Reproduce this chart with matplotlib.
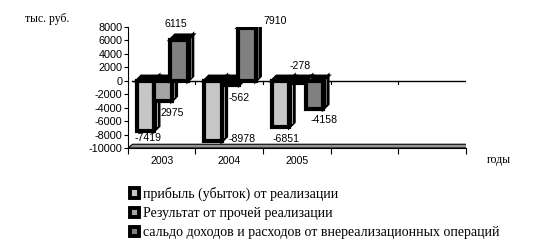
import matplotlib.pyplot as plt
from matplotlib.patches import Polygon, Rectangle, Patch
import numpy as np

years = ['2003', '2004', '2005', '', '']
series_names = ['прибыль (убыток) от реализации',
                'Результат от прочей реализации',
                'сальдо доходов и расходов от внереализационных операций']
profit = [-7419, -8978, -6851]
other = [-2975, -562, -278]
nonop = [6115, 7910, -4158]
label_text = [['-7419', '-8978', '-6851'],
              ['2975', '-562', '-278'],
              ['6115', '7910', '-4158']]
colors = ['#c6c6c6', '#a4a4a4', '#808080']

# bar geometry
offsets = [-0.24, 0.02, 0.26]
width = 0.26
dx, dy = 0.07, 700

def bar3d(ax, x, v, color):
    x0, x1 = x - width / 2, x + width / 2
    lo, hi = min(0, v), max(0, v)
    side = Polygon([(x1, lo), (x1 + dx, lo + dy), (x1 + dx, hi + dy), (x1, hi)],
                   closed=True, facecolor='black', edgecolor='black', lw=2.2, zorder=3)
    top = Polygon([(x0, hi), (x0 + dx, hi + dy), (x1 + dx, hi + dy), (x1, hi)],
                  closed=True, facecolor='black', edgecolor='black', lw=2.2, zorder=3)
    front = Rectangle((x0, lo), width, hi - lo, facecolor=color,
                      edgecolor='black', lw=3.0, zorder=4)
    ax.add_patch(side)
    ax.add_patch(top)
    ax.add_patch(front)
    # thin light stripe on the side face
    ax.plot([x1 + dx * 0.55, x1 + dx * 0.55], [lo + dy * 0.9, hi + dy * 0.3],
            color=color, lw=0.6, zorder=3.5)

fig = plt.figure(figsize=(5.35, 2.49), dpi=100)
ax = fig.add_axes([0.239, 0.4056, 0.632, 0.486])
ax.set_xlim(0, 5)
ax.set_ylim(-10000, 8000)

# floor slab
floor = Polygon([(0, -10000), (5, -10000), (5 + dx, -10000 + dy * 0.8), (dx, -10000 + dy * 0.8)],
                closed=True, facecolor='#959595', edgecolor='black', lw=0.8, zorder=2)
ax.add_patch(floor)

# zero line with ticks
ax.plot([0.06, 5.06], [0, 0], color='black', lw=1.0, zorder=2)
for b in range(6):
    ax.plot([b, b], [0, -500], color='black', lw=0.8, zorder=2)

series = [profit, other, nonop]
for s, vals in enumerate(series):
    for i, v in enumerate(vals):
        bar3d(ax, i + 0.5 + offsets[s], v, colors[s])

# data labels (offsets in pixels from bar end)
lab_off = [[(3, -7), (29, 2), (5, -12)],
           [(9, -12), (8, -13), (2, 17)],
           [(-3, 16), (28, 7), (10, -11)]]
for s, vals in enumerate(series):
    for i, v in enumerate(vals):
        ax.annotate(label_text[s][i], (i + 0.5 + offsets[s], v),
                    xytext=lab_off[s][i], textcoords='offset pixels',
                    ha='center', va='center', fontsize=7.6,
                    family='Liberation Sans', zorder=6)

ax.set_yticks(np.arange(-10000, 8001, 2000))
ax.set_yticklabels([str(t) for t in range(-10000, 8001, 2000)],
                   fontsize=7.8, family='Liberation Sans')
ax.set_xticks(np.arange(0, 6))
ax.set_xticklabels([])
ax.set_xticks(np.arange(0.5, 5, 1), minor=True)
ax.set_xticklabels(years, minor=True, fontsize=7.6, family='Liberation Sans')
ax.tick_params(axis='x', which='minor', length=0, pad=6)
ax.tick_params(axis='x', which='major', length=4, direction='out')
ax.tick_params(axis='y', length=3, direction='out', pad=1)
for side in ['top', 'right']:
    ax.spines[side].set_visible(False)
ax.spines['left'].set_linewidth(0.8)
ax.spines['bottom'].set_linewidth(0.8)

fig.text(0.047, 0.91, 'тыс. руб.', fontsize=8.5, family='Liberation Serif')
fig.text(0.91, 0.345, 'годы', fontsize=8.5, family='Liberation Serif')

handles = [Patch(facecolor=c, edgecolor='black', lw=2.8) for c in colors]
fig.legend(handles, series_names, loc='upper left', bbox_to_anchor=(0.243, 0.25),
           frameon=False, handlelength=0.65, handleheight=0.65, handletextpad=0.3,
           labelspacing=0.45, borderaxespad=0, borderpad=0,
           prop={'family': 'Liberation Serif', 'size': 10})

fig.savefig('out.png', dpi=100)
